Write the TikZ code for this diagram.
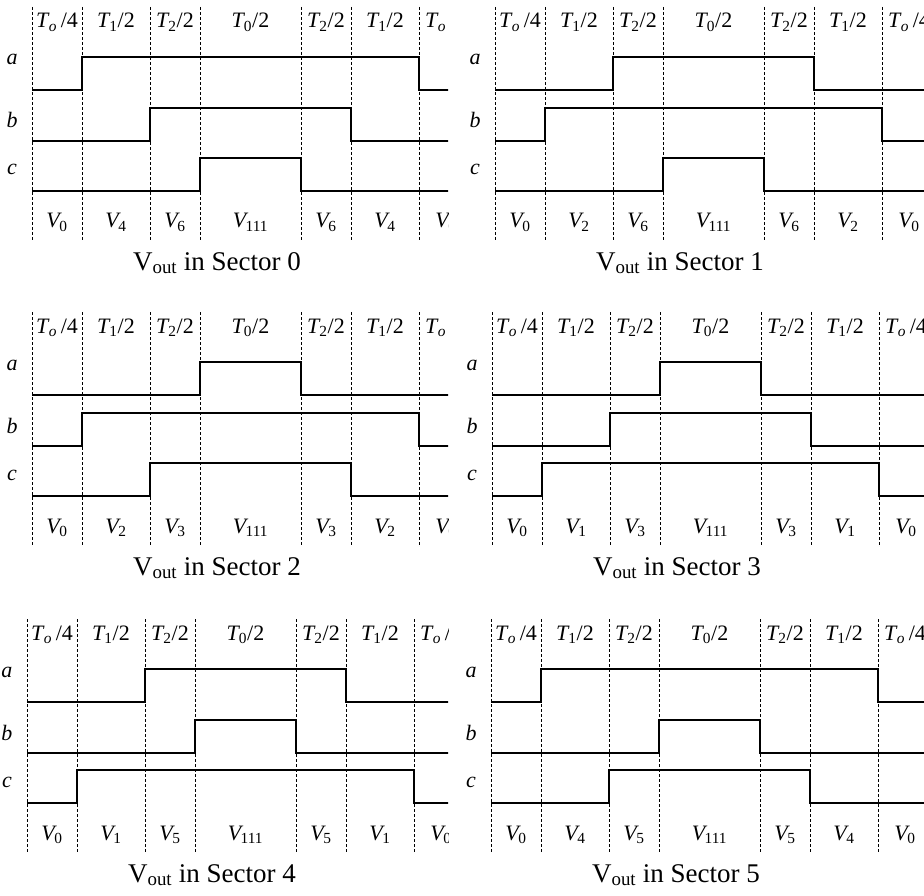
\documentclass[tikz,border=0pt]{standalone}
\usepackage{fontspec}
\setmainfont{Liberation Serif}
\tikzset{
  gridline/.style={line width=0.8pt, dash pattern=on 3pt off 2pt},
  wave/.style={line width=1.8pt, line join=miter},
  toplbl/.style={anchor=base, inner sep=0pt, font=\fontsize{22}{26}\selectfont},
  botlbl/.style={anchor=base, inner sep=0pt, font=\fontsize{22}{26}\selectfont},
  rowlbl/.style={anchor=base, inner sep=0pt, font=\fontsize{22}{26}\selectfont\itshape},
  ttl/.style={anchor=base, inner sep=0pt, font=\fontsize{27}{31}\selectfont}
}
\newcommand\To{\textit{T}\kern-0.03em\textsubscript{\textit{o}}}
\newcommand\Tn[1]{\textit{T}\kern-0.06em\textsubscript{#1}}
\newcommand\Vn[1]{\textit{V}\kern-0.12em\textsubscript{#1}}
\newcommand\wv[3]{%
  \pgfmathtruncatemacro\ei{7-#1}%
  \pgfmathsetmacro\xs{{0,50,118,168,269,319,387}[#1]}%
  \pgfmathsetmacro\xe{{0,50,118,168,269,319,387}[\ei]}%
  \draw[wave] (0,#3) -- (\xs,#3) -- (\xs,#2) -- (\xe,#2) -- (\xe,#3) -- (480,#3);}
% #1 ox, #2 oy, #3 clip x, #4-#6 pulse index a b c, #7 #8 vector subscripts, #9 sector
\newcommand\sectorpanel[9]{%
  \begin{scope}
    \clip (#1-45,#2-10) rectangle (#3,#2+290);
    \begin{scope}[shift={(#1,#2)}]
      \foreach \xx in {0,50,118,168,269,319,387}{\draw[gridline] (\xx,0) -- (\xx,234);}
      \node[toplbl] (s#9t1) at (25,21) {\To\,/4};
      \node[toplbl] (s#9t2) at (84,21) {\Tn{1}/2};
      \node[toplbl] (s#9t3) at (143,21) {\Tn{2}/2};
      \node[toplbl] (s#9t4) at (218.5,21) {\Tn{0}/2};
      \node[toplbl] (s#9t5) at (294,21) {\Tn{2}/2};
      \node[toplbl] (s#9t6) at (353,21) {\Tn{1}/2};
      \node[toplbl] (s#9t7) at (414,21) {\To\,/4};
      \node[rowlbl] (s#9a) at (-20,58) {a};
      \node[rowlbl] (s#9b) at (-20,121) {b};
      \node[rowlbl] (s#9c) at (-20,168) {c};
      \wv{#4}{50}{83}
      \wv{#5}{101}{134}
      \wv{#6}{151}{184}
      \node[botlbl] (s#9v1) at (25,221) {\Vn{0}};
      \node[botlbl] (s#9v2) at (84,221) {\Vn{#7}};
      \node[botlbl] (s#9v3) at (143,221) {\Vn{#8}};
      \node[botlbl] (s#9v4) at (218.5,221) {\Vn{111}};
      \node[botlbl] (s#9v5) at (294,221) {\Vn{#8}};
      \node[botlbl] (s#9v6) at (353,221) {\Vn{#7}};
      \node[botlbl] (s#9v7) at (414,221) {\Vn{0}};
      \node[ttl] (s#9title) at (185,263) {V\textsubscript{out} in Sector #9};
    \end{scope}
  \end{scope}}
\begin{document}
\begin{tikzpicture}[x=1pt,y=-1pt]
  \useasboundingbox (0,0) rectangle (924,896);
  \sectorpanel{32}{7}{448}{1}{2}{3}{4}{6}{0}
  \sectorpanel{495}{7}{924}{2}{1}{3}{2}{6}{1}
  \sectorpanel{32}{312}{448}{3}{1}{2}{2}{3}{2}
  \sectorpanel{492}{312}{924}{3}{2}{1}{1}{3}{3}
  \sectorpanel{27}{619}{448}{2}{3}{1}{1}{5}{4}
  \sectorpanel{491}{619}{924}{1}{3}{2}{4}{5}{5}
\end{tikzpicture}
\end{document}
